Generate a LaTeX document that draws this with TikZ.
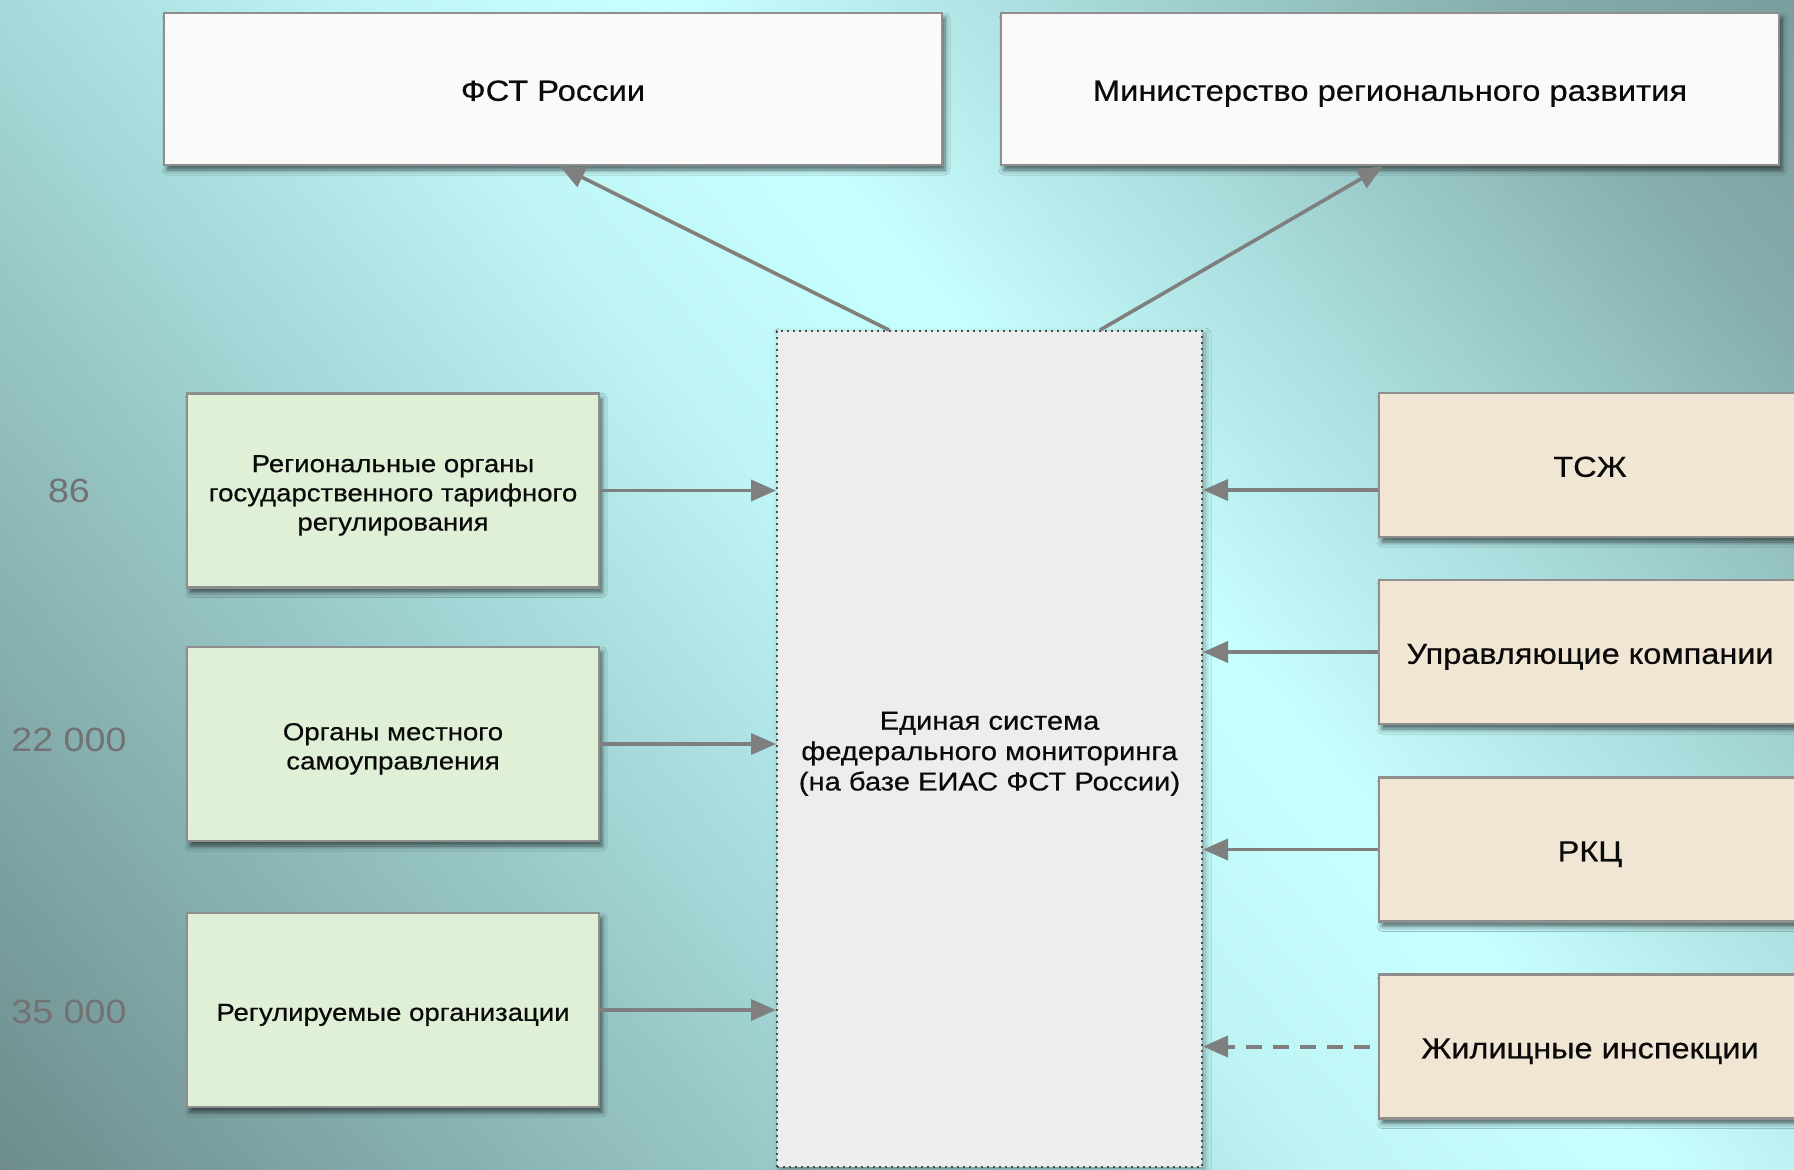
\documentclass[tikz,border=0pt]{standalone}
\usepackage{fontspec}
\setmainfont{Liberation Sans}[FakeStretch=1.12,FakeBold=0.5]
\newfontfamily\numfont{Liberation Sans}[FakeStretch=1.12]
\usetikzlibrary{arrows.meta,shadows.blur,calc}
\definecolor{bg0}{HTML}{6E8C8C}
\definecolor{bg1}{HTML}{8AB5B5}
\definecolor{bg2}{HTML}{96C3C3}
\definecolor{bg3}{HTML}{A6DADA}
\definecolor{bg4}{HTML}{BEF4F4}
\definecolor{bg5}{HTML}{C8FFFF}
\definecolor{bg6}{HTML}{A8DADA}
\definecolor{bg7}{HTML}{86AEAE}
\definecolor{bg8}{HTML}{7A9E9E}
\definecolor{topfill}{HTML}{FAFAFA}
\definecolor{greenfill}{HTML}{DFF0D7}
\definecolor{beigefill}{HTML}{F1E6D3}
\definecolor{centerfill}{HTML}{EDEDED}
\definecolor{boxborder}{HTML}{8E8E8E}
\definecolor{arrowgray}{HTML}{7F7F7F}
\definecolor{numgray}{HTML}{727272}
\definecolor{txt}{HTML}{0A0A0A}
\pgfdeclarehorizontalshading{bgshade}{1100pt}{color(0pt)=(bg0); color(18.5pt)=(bg0); color(217.5pt)=(bg1); color(290pt)=(bg2); color(394.5pt)=(bg3); color(530.5pt)=(bg4); color(653pt)=(bg5); color(806pt)=(bg6); color(967.5pt)=(bg7); color(1081.5pt)=(bg8); color(1100pt)=(bg8)}
\newcommand{\ml}[1]{\raisebox{-2.5pt}[\height][\depth]{\begin{tabular}{@{}c@{}}#1\end{tabular}}}
\tikzset{
  box/.style={draw=boxborder, line width=1.2pt, text=txt, inner sep=2pt,
    blur shadow={shadow xshift=1.5pt, shadow yshift=-2.5pt, shadow blur radius=2.5pt, shadow opacity=60}},
  topbox/.style={box, fill=topfill, minimum width=389pt, minimum height=76pt, font=\fontsize{14.6}{17}\selectfont},
  lbox/.style={box, fill=greenfill, minimum width=206pt, minimum height=97pt, font=\fontsize{12.3}{14.6}\selectfont},
  rbox/.style={box, fill=beigefill, minimum width=211pt, minimum height=72pt, font=\fontsize{14.5}{17}\selectfont},
  cbox/.style={draw=black!70, dotted, line width=1pt, fill=centerfill, minimum width=212.5pt, minimum height=418pt,
    text=txt, font=\fontsize{13}{15.2}\selectfont,
    blur shadow={shadow xshift=1.5pt, shadow yshift=-1.5pt, shadow blur radius=3pt, shadow opacity=35}},
  num/.style={text=numgray, font=\numfont\fontsize{16.8}{19}\selectfont},
  arr/.style={draw=arrowgray, line width=1.8pt, -{Triangle[length=12.5pt,width=10.5pt]}},
  darr/.style={arr, line width=2pt, dash pattern=on 8pt off 5.5pt}
}
\begin{document}
\begin{tikzpicture}[x=0.5pt,y=-0.5pt]
\useasboundingbox (0,0) rectangle (1794,1169);
\begin{scope}
\clip (0,0) rectangle (1794,1169);
\node[inner sep=0pt, rotate=40] (bg) at (897,584.5) {\pgfuseshading{bgshade}};
\end{scope}

% top boxes
\node[topbox] (fst) at (553,89) {\ml{ФСТ России}};
\node[topbox] (min) at (1390,89) {\ml{Министерство регионального развития}};

% center box
\node[cbox] (ctr) at (989.5,749) {\ml{Единая система\\федерального мониторинга\\(на базе ЕИАС ФСТ России)}};

% left boxes
\node[lbox] (g1) at (393,490.5) {\ml{Региональные органы\\государственного тарифного\\регулирования}};
\node[lbox] (g2) at (393,744) {\ml{Органы местного\\самоуправления}};
\node[lbox] (g3) at (393,1010) {\ml{Регулируемые организации}};

% right boxes
\node[rbox] (r1) at (1590,465) {\ml{ТСЖ}};
\node[rbox] (r2) at (1590,652) {\ml{Управляющие компании}};
\node[rbox] (r3) at (1590,849.5) {\ml{РКЦ}};
\node[rbox] (r4) at (1590,1046.5) {\ml{Жилищные инспекции}};

% numbers
\node[num] (n1) at (69,490) {\ml{86}};
\node[num] (n2) at (69,739) {\ml{22 000}};
\node[num] (n3) at (69,1011) {\ml{35 000}};

% arrows up
\draw[arr] ([xshift=56.5pt]ctr.north west) -- ([xshift=198.5pt]fst.south west);
\draw[arr] ([xshift=162pt]ctr.north west) -- ([xshift=191.5pt]min.south west);

% left arrows
\draw[arr] (g1.east) -- (ctr.west |- g1.east);
\draw[arr] (g2.east) -- (ctr.west |- g2.east);
\draw[arr] (g3.east) -- (ctr.west |- g3.east);

% right arrows
\coordinate (r1a) at ([yshift=-12.5pt]r1.west);
\draw[arr] (r1a) -- (ctr.east |- r1a);
\draw[arr] (r2.west) -- (ctr.east |- r2.west);
\draw[arr] (r3.west) -- (ctr.east |- r3.west);
\draw[darr, shorten <=4pt] (r4.west) -- (ctr.east |- r4.west);
\end{tikzpicture}
\end{document}
